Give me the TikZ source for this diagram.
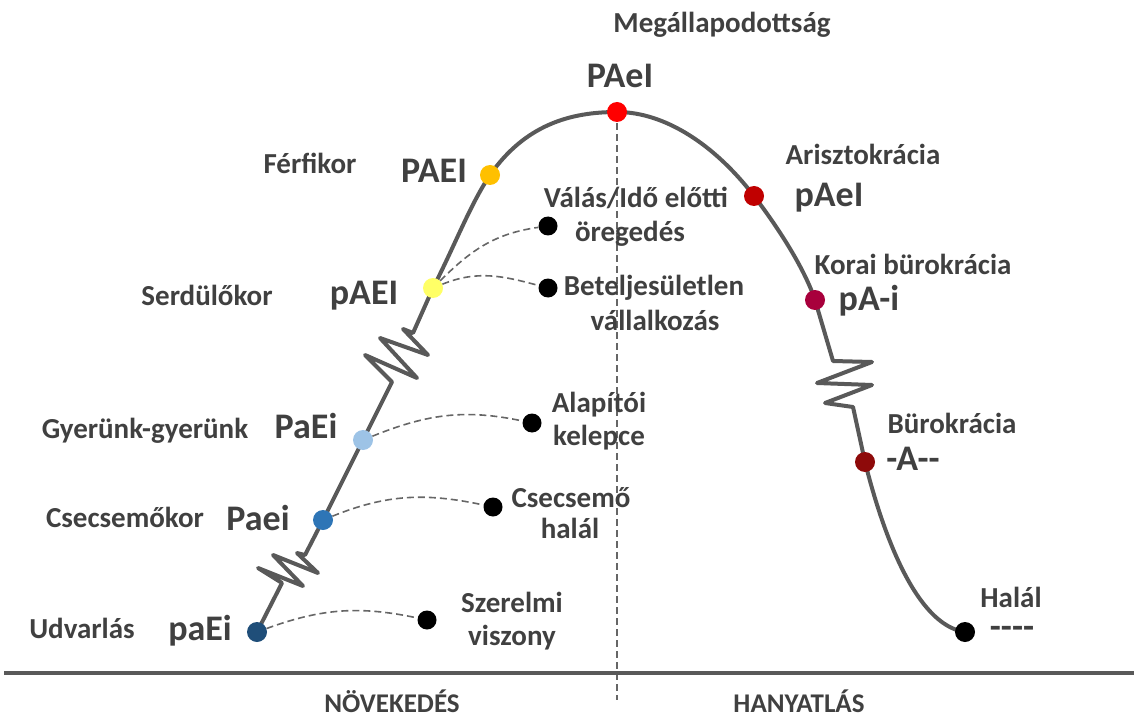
\documentclass[tikz,border=0pt]{standalone}
\usepackage{fontspec}
\setmainfont{Carlito}
\usetikzlibrary{backgrounds}

\definecolor{curvegray}{HTML}{595959}
\definecolor{dashgray}{HTML}{666666}
\definecolor{textgray}{HTML}{404040}
\definecolor{udvcol}{HTML}{1F4E79}
\definecolor{csecscol}{HTML}{2E75B6}
\definecolor{gyercol}{HTML}{9DC3E6}
\definecolor{serdcol}{HTML}{FFFF66}
\definecolor{ferficol}{HTML}{FFC000}
\definecolor{peakcol}{HTML}{FF0000}
\definecolor{arisztcol}{HTML}{C00000}
\definecolor{koraicol}{HTML}{A8003C}
\definecolor{burocol}{HTML}{8E0A0A}

\begin{document}
\begin{tikzpicture}[x=1pt,y=-1pt]
\tikzset{vertex/.style = {shape=circle,minimum size=20pt,inner sep=0pt}}
\tikzset{outcome/.style = {shape=circle,fill=black,minimum size=19pt,inner sep=0pt}}
\tikzset{lbl/.style = {anchor=base,text=textgray,inner sep=0pt,font=\fontsize{29}{34}\selectfont\bfseries}}
\tikzset{code/.style = {anchor=base,text=textgray,inner sep=0pt,font=\fontsize{36}{42}\selectfont\bfseries}}
\tikzset{phase/.style = {anchor=base,text=textgray,inner sep=0pt,font=\fontsize{27}{32}\selectfont\bfseries}}
\tikzset{lifeline/.style = {draw=curvegray,line width=4pt,line join=round}}
\tikzset{edge/.style = {draw=dashgray,line width=1.6pt,dash pattern=on 7pt off 4pt}}

\useasboundingbox (0,0) rectangle (1134,719);

\foreach \pos/\name/\col in {{(257,632)/udv/udvcol}, {(323,520)/csecs/csecscol}, {(363,440)/gyer/gyercol}, {(433,288)/serd/serdcol}, {(490,175)/ferfi/ferficol}, {(617,112)/peak/peakcol}, {(754,196)/ariszt/arisztcol}, {(815,300)/korai/koraicol}, {(865,462)/buro/burocol}, {(965,632)/halal/black}}
\node[vertex,fill=\col] (\name) at \pos {};

\foreach \pos/\name in {{(427,620)/szer}, {(493,507)/cshal}, {(532,423)/alap}, {(548,288)/betel}, {(548,226)/valas}}
\node[outcome] (\name) at \pos {};

\begin{scope}[on background layer]
% life cycle curve, with the two breaks on each side
\draw[lifeline] (udv.center) -- (282,583) -- (258,568) -- (303,586) -- (273,555) -- (318,573) -- (297,553) -- (305,555)
  -- (csecs.center) -- (gyer.center) -- (392,382) -- (365,355) -- (417,378) -- (380,338) -- (428,355) -- (403,329) -- (413,333)
  -- (serd.center) .. controls (455,245) and (470,205) .. (ferfi.center)
  .. controls (525,125) and (570,112) .. (peak.center)
  .. controls (665,112) and (715,145) .. (ariszt.center)
  .. controls (780,230) and (805,270) .. (korai.center)
  -- (833,361) -- (872,362) -- (817,383) -- (872,385) -- (825,403) -- (853,407)
  -- (buro.center) .. controls (882,530) and (915,625) .. (halal.center);
\coordinate (axisend) at (617,700);
\draw[edge,line width=1.2pt] (peak.center) -- (axisend);
\end{scope}

\coordinate (axisl) at (4,673);
\coordinate (axisr) at (1134,673);
\draw[lifeline] (axisl) -- (axisr);

\draw[edge] (udv) to[out=20,in=168] (szer);
\draw[edge] (csecs) to[out=22,in=168] (cshal);
\draw[edge] (gyer) to[out=22,in=168] (alap);
\draw[edge] (serd) to[out=22,in=165] (betel);
\draw[edge] (serd) to[out=45,in=-172] (valas);

\node[lbl] (megall) at (722,33) {Megállapodottság};
\node[code] (cpeak) at (620,88) {PAeI};
\node[lbl] (lferfi) at (310,174) {Férfikor};
\node[code] (cferfi) at (434,183) {PAEI};
\node[lbl] (lariszt) at (863,165) {Arisztokrácia};
\node[code] (cariszt) at (829,207) {pAeI};
\node[lbl] (lvalas1) at (636,208) {Válás/Idő előtti};
\node[lbl] (lvalas2) at (630,242) {öregedés};
\node[lbl] (lbetel1) at (654,295) {Beteljesületlen};
\node[lbl] (lbetel2) at (655,330) {vállalkozás};
\node[lbl] (lserd) at (207,305) {Serdülőkor};
\node[code] (cserd) at (364,304) {pAEI};
\node[lbl] (lkorai) at (913,274) {Korai bürokrácia};
\node[code] (ckorai) at (869,310) {pA-i};
\node[lbl] (lgyer) at (145,438) {Gyerünk-gyerünk};
\node[code] (cgyer) at (306,438) {PaEi};
\node[lbl] (lalap1) at (599,412) {Alapítói};
\node[lbl] (lalap2) at (599,445) {kelepce};
\node[lbl] (lburo) at (952,433) {Bürokrácia};
\node[code] (cburo) at (913,470) {-A{-}{-}};
\node[lbl] (lcsecs) at (125,527) {Csecsemőkor};
\node[code] (ccsecs) at (258,530) {Paei};
\node[lbl] (lcshal1) at (571,507) {Csecsemő};
\node[lbl] (lcshal2) at (570,538) {halál};
\node[lbl] (lszer1) at (512,612) {Szerelmi};
\node[lbl] (lszer2) at (512,645) {viszony};
\node[lbl] (ludv) at (82,638) {Udvarlás};
\node[code] (cudv) at (200,640) {paEi};
\node[lbl] (lhalal) at (1011,607) {Halál};
\node[code] (chalal) at (1012,638) {{-}{-}{-}{-}};
\node[phase] (lgrow) at (392,712) {NÖVEKEDÉS};
\node[phase] (ldecl) at (799,712) {HANYATLÁS};

\end{tikzpicture}
\end{document}
